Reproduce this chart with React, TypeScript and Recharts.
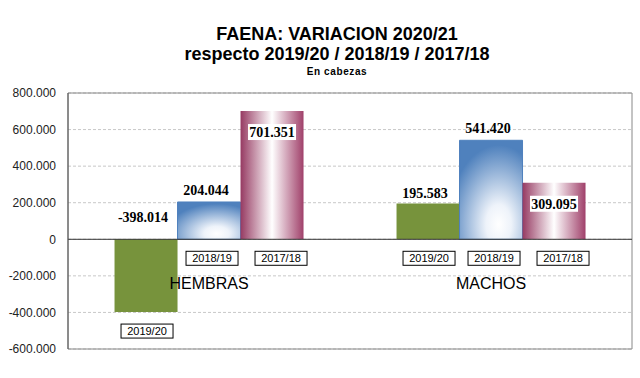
import React from 'react';
import { BarChart, Bar, XAxis, YAxis, CartesianGrid, ReferenceLine, ReferenceArea, LabelList } from 'recharts';

const categories = ['HEMBRAS', 'MACHOS'];
const seriesNames = ['2019/20', '2018/19', '2017/18'];
const var2019_20 = [-398014, 195583];
const var2018_19 = [204044, 541420];
const var2017_18 = [701351, 309095];
const yTicks = [-600000, -400000, -200000, 0, 200000, 400000, 600000, 800000];

const data = categories.map((name, i) => ({
  name,
  s0: var2019_20[i],
  s1: var2018_19[i],
  s2: var2017_18[i],
}));

const fmt = (v: number) => {
  const s = Math.abs(v).toString().replace(/\B(?=(\d{3})+(?!\d))/g, '.');
  return (v < 0 ? '-' : '') + s;
};

const sans = 'Arial, "Liberation Sans", sans-serif';
const serif = '"Times New Roman", "Liberation Serif", serif';

// value label: 0 = above bar, 1 = above bar, 2 = inside top with white box
const ValueLabel = (series: number) => (props: any) => {
  const { x, y, width, height, value } = props;
  if (value == null) return null;
  const top = Math.min(y, y + height);
  const cx = x + width / 2;
  const text = fmt(Number(value));
  if (series === 2) {
    const cy = top + 21;
    return (
      <g>
        <rect x={cx - 24} y={cy - 8} width={48} height={16} fill="#fff" />
        <text x={cx} y={cy} dy={5} textAnchor="middle" fontFamily={serif} fontWeight="bold" fontSize={14} fill="#000">{text}</text>
      </g>
    );
  }
  const cy = Number(value) < 0 ? top - 22 : top - (series === 0 ? 11 : 12);
  return (
    <text x={cx - 3} y={cy} dy={5} textAnchor="middle" fontFamily={serif} fontWeight="bold" fontSize={14} fill="#000">{text}</text>
  );
};

const boxShift = [1, 3, 9];

const NameLabel = (series: number) => (props: any) => {
  const { x, y, width, height } = props;
  const bottom = Math.max(y, y + height);
  const cx = x + width / 2 + boxShift[series];
  const topBox = bottom + 12;
  return (
    <g>
      <rect x={cx - 26} y={topBox} width={52} height={14} fill="#fff" stroke="#000" strokeWidth={1} />
      <text x={cx} y={topBox + 11} textAnchor="middle" fontFamily={sans} fontSize={11} fill="#000">{seriesNames[series]}</text>
    </g>
  );
};

const CategoryTick = (props: any) => {
  const { x, y, payload } = props;
  return (
    <text x={x} y={y} dy={-68} textAnchor="middle" fontFamily={sans} fontSize={16} fill="#000">
      {payload.value}
    </text>
  );
};

export default function App() {
  return (
    <div style={{ position: 'fixed', left: 0, top: 0, width: 640, height: 378, background: '#fff' }}>
      <div style={{ position: 'absolute', left: 0, width: 640, top: 24, textAlign: 'center', fontFamily: sans, fontWeight: 'bold', fontSize: 18, lineHeight: '20px', paddingLeft: 34, boxSizing: 'border-box' }}>
        <div>FAENA: VARIACION 2020/21</div>
        <div>respecto 2019/20 / 2018/19 / 2017/18</div>
        <div style={{ fontSize: 10, lineHeight: '16px', letterSpacing: 0.6 }}>En cabezas</div>
      </div>
      <BarChart
        width={640}
        height={378}
        data={data}
        margin={{ top: 93, right: 8, left: 0, bottom: 0 }}
        barCategoryGap="16.5%"
        barGap={0}
      >
        <defs>
          <radialGradient id="gBlue" cx="0.62" cy="0.85" r="0.8">
            <stop offset="0%" stopColor="#ffffff" />
            <stop offset="25%" stopColor="#eef3fa" />
            <stop offset="100%" stopColor="#4f81bd" />
          </radialGradient>
          <linearGradient id="gRed" x1="0" y1="0" x2="1" y2="0">
            <stop offset="0%" stopColor="#963a62" />
            <stop offset="50%" stopColor="#ffffff" />
            <stop offset="100%" stopColor="#a0406a" />
          </linearGradient>
        </defs>
        <CartesianGrid horizontal vertical={false} stroke="#c8c8c8" strokeDasharray="3 2" />
        <XAxis dataKey="name" height={29} axisLine={false} tickLine={false} tick={<CategoryTick />} interval={0} />
        <YAxis
          width={68}
          domain={[-600000, 800000]}
          ticks={yTicks}
          tickFormatter={fmt}
          axisLine={{ stroke: '#555' }}
          tickLine={false}
          tick={{ fontFamily: sans, fontSize: 12, fill: '#222', dx: -4 }}
          allowDataOverflow
        />
        <ReferenceArea y1={-600000} y2={800000} fill="none" stroke="#888" strokeWidth={1} ifOverflow="visible" />
        <ReferenceLine y={0} stroke="#333" strokeWidth={1} />
        <Bar dataKey="s0" name={seriesNames[0]} fill="#77933c" isAnimationActive={false}>
          <LabelList dataKey="s0" content={ValueLabel(0)} />
          <LabelList dataKey="s0" content={NameLabel(0)} />
        </Bar>
        <Bar dataKey="s1" name={seriesNames[1]} fill="url(#gBlue)" stroke="#4f81bd" strokeWidth={1} isAnimationActive={false}>
          <LabelList dataKey="s1" content={ValueLabel(1)} />
          <LabelList dataKey="s1" content={NameLabel(1)} />
        </Bar>
        <Bar dataKey="s2" name={seriesNames[2]} fill="url(#gRed)" isAnimationActive={false}>
          <LabelList dataKey="s2" content={ValueLabel(2)} />
          <LabelList dataKey="s2" content={NameLabel(2)} />
        </Bar>
      </BarChart>
    </div>
  );
}
